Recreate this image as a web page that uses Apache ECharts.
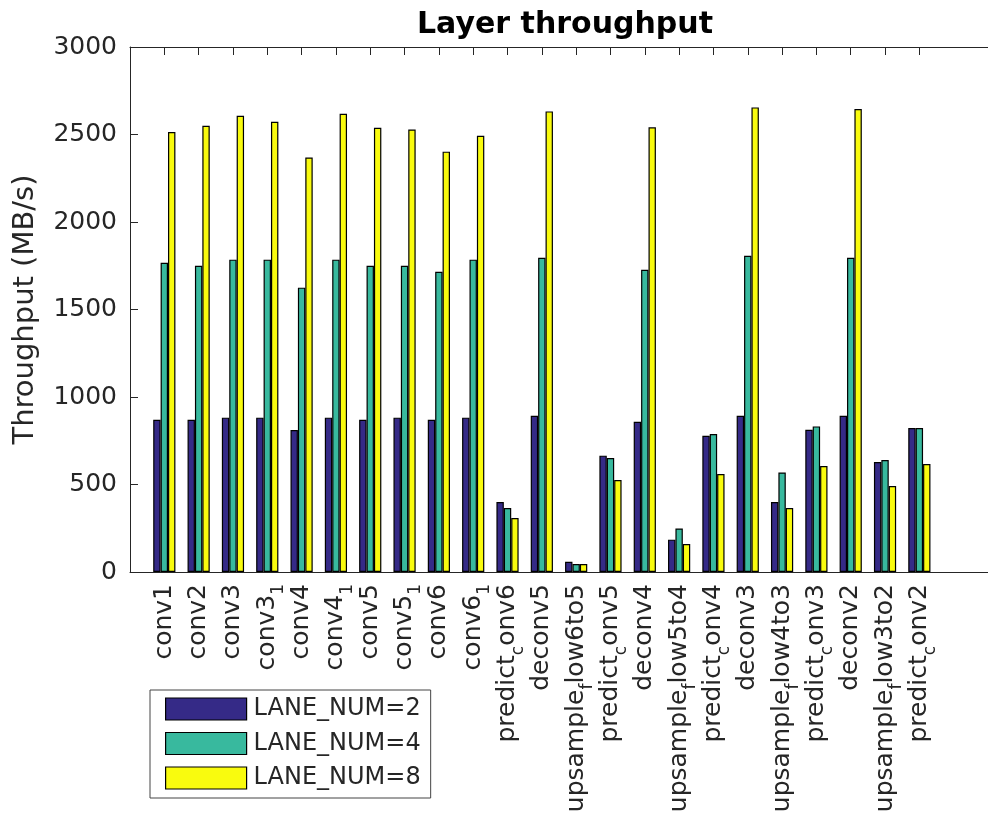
<!DOCTYPE html>
<html>
<head>
<meta charset="utf-8">
<title>Layer throughput</title>
<script src="https://cdn.jsdelivr.net/npm/echarts@6/dist/echarts.min.js"></script>
<style>
  html, body { margin: 0; padding: 0; background: #fff; }
  #chart { width: 988px; height: 825px; }
</style>
</head>
<body>
<div id="chart"></div>
<script>
// Layer names (an underscore marks a one-character subscript, TeX style)
const layers = [
  'conv1', 'conv2', 'conv3', 'conv3_1', 'conv4', 'conv4_1', 'conv5', 'conv5_1',
  'conv6', 'conv6_1', 'predict_conv6', 'deconv5', 'upsample_flow6to5',
  'predict_conv5', 'deconv4', 'upsample_flow5to4', 'predict_conv4', 'deconv3',
  'upsample_flow4to3', 'predict_conv3', 'deconv2', 'upsample_flow3to2', 'predict_conv2'
];

// Throughput in MB/s per lane configuration
const lane2 = [870, 870, 882, 882, 811, 882, 870, 882, 870, 882, 400, 893, 59,
               665, 859, 185, 779, 893, 400, 813, 893, 628, 823];
const lane4 = [1767, 1750, 1785, 1785, 1625, 1785, 1750, 1750, 1716, 1785, 366, 1796, 46,
               651, 1727, 249, 788, 1807, 569, 832, 1796, 640, 823];
const lane8 = [2514, 2550, 2607, 2573, 2369, 2619, 2539, 2529, 2402, 2493, 309, 2632, 46,
               526, 2541, 160, 560, 2655, 366, 606, 2646, 491, 617];

const seriesNames = ['LANE_NUM=2', 'LANE_NUM=4', 'LANE_NUM=8'];
const seriesColors = ['#352a87', '#38b99e', '#f9fb0e'];
const yTicks = { min: 0, max: 3000, step: 500 };

// The x range runs from 0 to 25 in layer-index units; layers sit at 1..23.
const padLead = 1, padTail = 2;
const axisCats = [].concat(Array(padLead).fill(''), layers, Array(padTail).fill(''));
const pad = arr => [].concat(Array(padLead).fill(null), arr, Array(padTail).fill(null));

// Turn "a_bc" into rich text with "b" as a subscript
function texLabel(name) {
  if (!name) return '';
  let out = '', buf = '';
  for (let i = 0; i < name.length; i++) {
    const ch = name[i];
    if (ch === '_' && i + 1 < name.length) {
      if (buf) { out += '{n|' + buf + '}'; buf = ''; }
      out += '{s|' + name[i + 1] + '}';
      i++;
    } else {
      buf += ch;
    }
  }
  if (buf) out += '{n|' + buf + '}';
  return out;
}

const FONT = 'DejaVu Sans';
const INK = '#262626';

const chart = echarts.init(document.getElementById('chart'), null, { renderer: 'canvas' });

const grid = { left: 130, top: 47, width: 870, height: 525 };

const option = {
  backgroundColor: '#ffffff',
  animation: false,
  title: {
    text: 'Layer throughput',
    left: 565,
    top: 10,
    textAlign: 'center',
    padding: 0,
    textStyle: { fontFamily: FONT, fontWeight: 'bold', fontSize: 30, color: '#000' }
  },
  grid: grid,
  legend: {
    orient: 'vertical',
    left: 150,
    top: 690,
    width: 279,
    padding: [7, 10, 8, 15],
    itemWidth: 81,
    itemHeight: 22,
    itemGap: 10.5,
    borderColor: '#444',
    borderWidth: 1,
    backgroundColor: '#fff',
    icon: 'rect',
    itemStyle: { borderColor: '#000', borderWidth: 1.2 },
    textStyle: { fontFamily: FONT, fontSize: 24, color: INK, padding: [0, 0, 0, 2] },
    data: seriesNames
  },
  xAxis: [
    {
      type: 'category',
      position: 'bottom',
      data: axisCats,
      boundaryGap: false,
      axisLine: { show: true, lineStyle: { color: INK, width: 1 } },
      axisTick: {
        show: true, inside: true, length: 8,
        interval: (idx, val) => val !== '',
        lineStyle: { color: INK }
      },
      axisLabel: {
        show: true,
        interval: 0,
        rotate: 90,
        margin: 12,
        color: INK,
        fontFamily: FONT,
        fontSize: 25,
        formatter: texLabel,
        rich: {
          n: { fontFamily: FONT, fontSize: 25, lineHeight: 30, color: INK },
          s: { fontFamily: FONT, fontSize: 17, lineHeight: 20, color: INK,
               verticalAlign: 'top', padding: [18, 0, 0, 0] }
        }
      },
      splitLine: { show: false }
    },
    {
      type: 'category',
      position: 'top',
      data: axisCats,
      boundaryGap: false,
      axisLine: { show: true, lineStyle: { color: INK, width: 1 } },
      axisTick: {
        show: true, inside: true, length: 8,
        interval: (idx, val) => val !== '',
        lineStyle: { color: INK }
      },
      axisLabel: { show: false },
      splitLine: { show: false }
    }
  ],
  yAxis: {
    type: 'value',
    min: yTicks.min,
    max: yTicks.max,
    interval: yTicks.step,
    name: 'Throughput (MB/s)',
    nameLocation: 'middle',
    nameGap: 90,
    nameRotate: 90,
    nameTextStyle: { fontFamily: FONT, fontSize: 29, color: INK },
    axisLine: { show: true, lineStyle: { color: INK, width: 1 } },
    axisTick: { show: true, inside: true, length: 8, lineStyle: { color: INK } },
    axisLabel: {
      margin: 13, color: INK, fontFamily: FONT, fontSize: 25,
      formatter: v => String(v)
    },
    splitLine: { show: false }
  },
  series: [lane2, lane4, lane8].map((vals, i) => ({
    name: seriesNames[i],
    type: 'bar',
    xAxisIndex: 0,
    data: pad(vals),
    barWidth: 7.4,
    barGap: '0%',
    itemStyle: { color: seriesColors[i], borderColor: '#000', borderWidth: 1.2 }
  }))
};

chart.setOption(option);
</script>
</body>
</html>
